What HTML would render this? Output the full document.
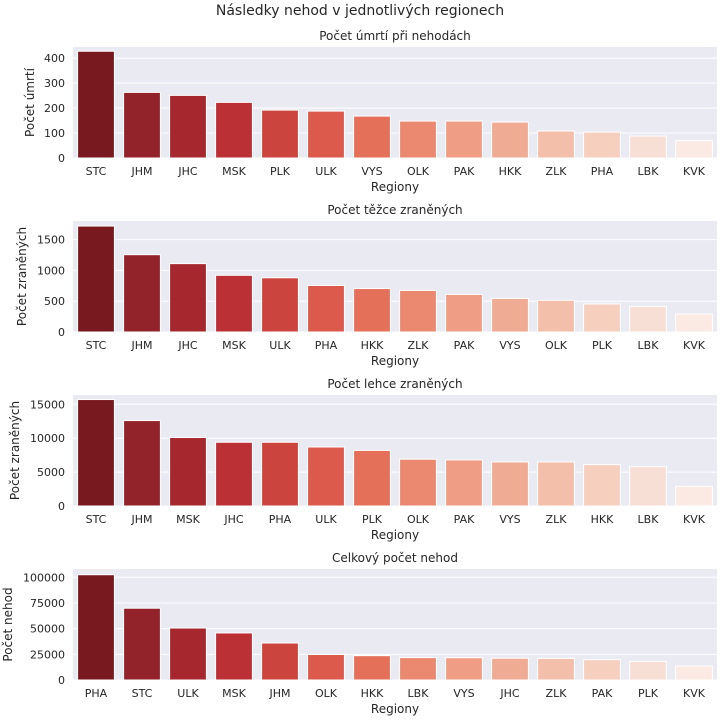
<!DOCTYPE html>
<html><head><meta charset="utf-8"><style>
body{margin:0;background:#fff;font-family:"Liberation Sans","DejaVu Sans",sans-serif;}
svg text{font-family:"DejaVu Sans","Liberation Sans",sans-serif;fill:#262626;}
</style></head><body>
<svg id="c" width="720" height="720">
<text x="360" y="15" text-anchor="middle" font-size="14">Následky nehod v jednotlivých regionech</text>
</svg>
<script>
const cats1=["STC","JHM","JHC","MSK","PLK","ULK","VYS","OLK","PAK","HKK","ZLK","PHA","LBK","KVK"];
const vals1=[428,263,251,223,192,188,168,148,148,144,108,104,88,70];
const ticks1=[0,100,200,300,400];
const cats2=["STC","JHM","JHC","MSK","ULK","PHA","HKK","ZLK","PAK","VYS","OLK","PLK","LBK","KVK"];
const vals2=[1720,1255,1110,920,880,755,705,675,610,545,515,455,415,290];
const ticks2=[0,500,1000,1500];
const cats3=["STC","JHM","MSK","JHC","PHA","ULK","PLK","OLK","PAK","VYS","ZLK","HKK","LBK","KVK"];
const vals3=[15700,12600,10100,9400,9400,8700,8200,6900,6800,6500,6500,6100,5800,2900];
const ticks3=[0,5000,10000,15000];
const cats4=["PHA","STC","ULK","MSK","JHM","OLK","HKK","LBK","VYS","JHC","ZLK","PAK","PLK","KVK"];
const vals4=[102500,69900,50600,45800,36000,24800,23700,21800,21700,21200,21000,19800,18000,13500];
const ticks4=[0,25000,50000,75000,100000];
const colors=["#77191e","#93232a","#a6282e","#ba3035","#cb443e","#db5a4b","#e5705a","#ea8870","#ef9d84","#f0ab94","#f3bfaa","#f6cfbf","#f8dfd5","#fbeae4"];
const NS="http://www.w3.org/2000/svg";
const svg=document.getElementById("c");
function mk(t,a,p){const e=document.createElementNS(NS,t);for(const k in a)e.setAttribute(k,a[k]);(p||svg).appendChild(e);return e;}
function panel(idx,cats,vals,ticks,ymax,top,title,ylab,ylx){
  const L=73,R=717,H=111,B=top+H;
  const g=mk("g",{});
  
  
  const bg=mk("rect",{x:L,y:top,width:R-L,height:H,fill:"#eaeaf2"},g);
  
  
  const y=v=>B-v/ymax*H;
  const bw=(R-L)/cats.length;
  const x=i=>L+bw*i;
  ticks.forEach(t=>{
    const ln=mk("line",{x1:L,x2:R,y1:y(t),y2:y(t),stroke:"#fff","stroke-width":1},g);
    
    
    const tx=mk("text",{x:L-8,y:y(t)+4,"text-anchor":"end","font-size":11},g);
    tx.textContent=t;
    
    
  });
  vals.forEach((v,i)=>{
    const r=mk("rect",{x:x(i)+bw*0.1,y:y(v),width:bw*0.8,height:B-y(v),fill:colors[i],stroke:"#fff","stroke-width":1},g);
    
    
    const tx=mk("text",{x:x(i)+bw/2,y:B+17,"text-anchor":"middle","font-size":11},g);
    tx.textContent=cats[i];
    
    
  });
  const tt=mk("text",{x:(L+R)/2,y:top-7,"text-anchor":"middle","font-size":12},g);
  tt.textContent=title;
  
  
  const xl=mk("text",{x:(L+R)/2,y:B+33,"text-anchor":"middle","font-size":12},g);
  xl.textContent="Regiony";
  
  
  const yl=mk("text",{x:0,y:0,"text-anchor":"middle","font-size":12,transform:`translate(${ylx},${top+H/2}) rotate(-90)`},g);
  yl.textContent=ylab;
  
  
}
panel(1,cats1,vals1,ticks1,445,47,"Počet úmrtí při nehodách","Počet úmrtí",34);
panel(2,cats2,vals2,ticks2,1802,221,"Počet těžce zraněných","Počet zraněných",26);
panel(3,cats3,vals3,ticks3,16372,395,"Počet lehce zraněných","Počet zraněných",19);
panel(4,cats4,vals4,ticks4,108081,569,"Celkový počet nehod","Počet nehod",12);
</script>
</body></html>
